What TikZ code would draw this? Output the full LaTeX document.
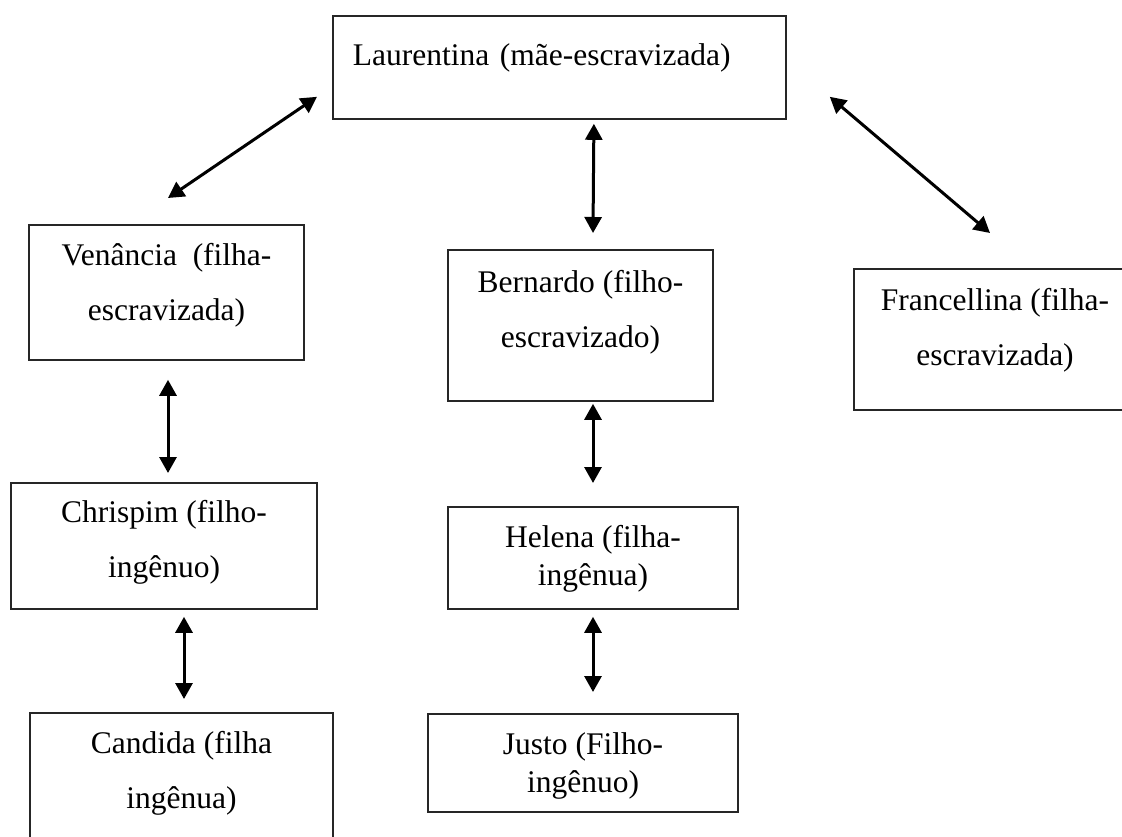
\documentclass[tikz,border=0pt]{standalone}
\usepackage{fontspec}
\setmainfont{Liberation Serif}
\usetikzlibrary{arrows.meta}
\newcommand{\boxfont}{\fontsize{31.5pt}{38pt}\selectfont}

\begin{document}
\begin{tikzpicture}[x=1pt,y=-1pt,
  box/.style={draw=black!85,line width=1.8pt,align=center,inner sep=0pt,anchor=north,font=\boxfont},
  link/.style={<->,>={Triangle[length=16pt,width=17pt]},line width=3pt}]
\useasboundingbox (0,0) rectangle (1122,836);
\node[box,anchor=north west,align=left,text width=413pt,inner xsep=20pt,
  text height=50pt,text depth=53pt] (lau) at (332,15) {Laurentina (mãe-escravizada)};
\node[box,minimum width=275pt,text height=96pt,text depth=39pt] (ven) at (166.5,224)
  {Venância~ (filha-\\[17pt]escravizada)};
\node[box,minimum width=265pt,text height=98pt,text depth=53pt] (ber) at (580.5,249)
  {Bernardo (filho-\\[17pt]escravizado)};
\node[box,minimum width=282pt,text height=97pt,text depth=44pt] (fra) at (995,268)
  {Francellina (filha-\\[17pt]escravizada)};
\node[box,minimum width=306pt,text height=95pt,text depth=31pt] (chr) at (164,482)
  {Chrispim (filho-\\[17pt]ingênuo)};
\node[box,minimum width=290pt,text height=79pt,text depth=23pt] (hel) at (593,506)
  {Helena (filha-\\ingênua)};
\node[box,minimum width=303pt,text height=96pt,text depth=34pt] (can) at (181.5,712)
  {Candida (filha\\[17pt]ingênua)};
\node[box,minimum width=310pt,text height=79pt,text depth=19pt] (jus) at (583,713)
  {Justo (Filho-\\ingênuo)};
%
\draw[link] ([xshift=-15pt,yshift=23pt]lau.south west) to ([xshift=1.5pt,yshift=26pt]ven.north);
\draw[link] ([xshift=34.5pt,yshift=-4pt]lau.south) to ([xshift=12.5pt,yshift=16pt]ber.north);
\draw[link] ([xshift=43pt,yshift=23pt]lau.south east) to ([xshift=-5pt,yshift=35pt]fra.north);
\draw[link] ([xshift=1.5pt,yshift=-19pt]ven.south) to ([xshift=4pt,yshift=9pt]chr.north);
\draw[link] ([xshift=20pt,yshift=-7pt]chr.south) to ([xshift=2.5pt,yshift=13pt]can.north);
\draw[link] ([xshift=12.5pt,yshift=-2pt]ber.south) to ([yshift=23pt]hel.north);
\draw[link] ([yshift=-7pt]hel.south) to ([xshift=10pt,yshift=21pt]jus.north);
\end{tikzpicture}
\end{document}
